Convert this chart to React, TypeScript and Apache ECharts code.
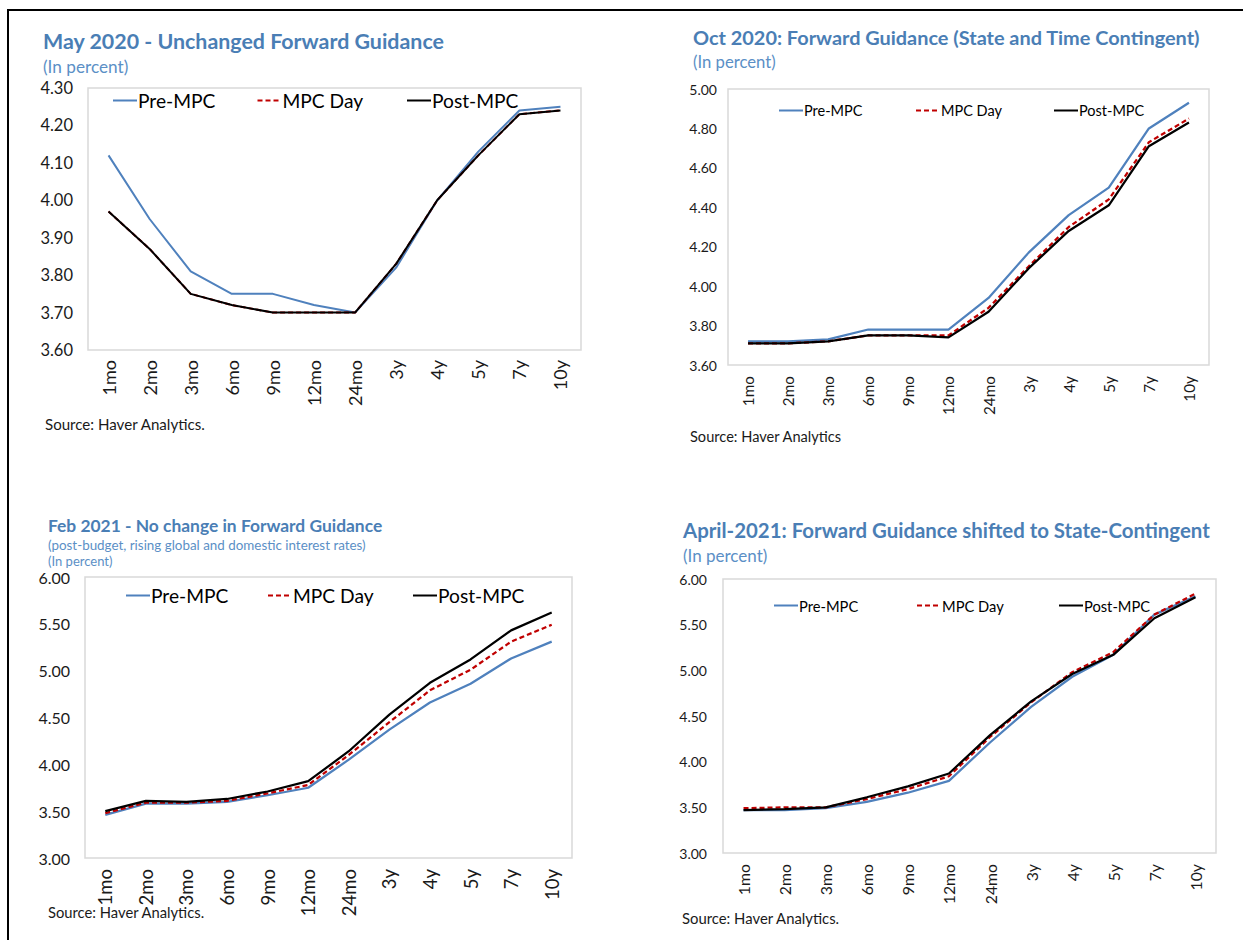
import React, { useEffect, useRef } from "react";
import * as echarts from "echarts";

const categories = ["1mo", "2mo", "3mo", "6mo", "9mo", "12mo", "24mo", "3y", "4y", "5y", "7y", "10y"];
const seriesNames = ["Pre-MPC", "MPC Day", "Post-MPC"];

// May 2020
const may20Pre = [4.12, 3.95, 3.81, 3.75, 3.75, 3.72, 3.7, 3.82, 4.0, 4.13, 4.24, 4.25];
const may20Day = [3.97, 3.87, 3.75, 3.72, 3.7, 3.7, 3.7, 3.83, 4.0, 4.12, 4.23, 4.24];
const may20Post = [3.97, 3.87, 3.75, 3.72, 3.7, 3.7, 3.7, 3.83, 4.0, 4.12, 4.23, 4.24];

// Oct 2020
const oct20Pre = [3.72, 3.72, 3.73, 3.78, 3.78, 3.78, 3.94, 4.17, 4.36, 4.5, 4.8, 4.93];
const oct20Day = [3.71, 3.71, 3.72, 3.75, 3.75, 3.75, 3.89, 4.1, 4.3, 4.44, 4.73, 4.85];
const oct20Post = [3.71, 3.71, 3.72, 3.75, 3.75, 3.74, 3.87, 4.09, 4.28, 4.41, 4.71, 4.83];

// Feb 2021
const feb21Pre = [3.46, 3.58, 3.58, 3.6, 3.67, 3.75, 4.05, 4.37, 4.66, 4.86, 5.13, 5.31];
const feb21Day = [3.48, 3.59, 3.59, 3.61, 3.69, 3.78, 4.1, 4.45, 4.79, 5.01, 5.31, 5.49];
const feb21Post = [3.5, 3.61, 3.6, 3.63, 3.71, 3.82, 4.14, 4.53, 4.87, 5.12, 5.43, 5.62];

// April 2021
const apr21Pre = [3.47, 3.47, 3.49, 3.56, 3.66, 3.79, 4.21, 4.6, 4.93, 5.17, 5.61, 5.81];
const apr21Day = [3.49, 3.5, 3.5, 3.59, 3.7, 3.84, 4.27, 4.65, 4.98, 5.2, 5.61, 5.84];
const apr21Post = [3.47, 3.48, 3.5, 3.61, 3.73, 3.87, 4.29, 4.66, 4.96, 5.17, 5.57, 5.8];

const titles = [
  "May 2020 - Unchanged Forward Guidance",
  "Oct 2020: Forward Guidance (State and Time Contingent)",
  "Feb 2021 - No change in Forward Guidance",
  "April-2021: Forward Guidance shifted to State-Contingent",
];
const subtitles = [
  ["(In percent)"],
  ["(In percent)"],
  ["(post-budget, rising global and domestic interest rates)", "(In percent)"],
  ["(In percent)"],
];
const sources = ["Source: Haver Analytics.", "Source: Haver Analytics", "Source: Haver Analytics.", "Source: Haver Analytics."];

const FONT = "Lato";
const TITLE_BLUE = "#4a7eb5";
const SUB_BLUE = "#5b8fc6";
const PRE_COLOR = "#4f81bd";
const DAY_COLOR = "#c00000";
const POST_COLOR = "#000000";

const panels = [
  {
    data: [may20Pre, may20Day, may20Post],
    grid: { left: 88, top: 88, width: 493, height: 262 },
    y: { min: 3.6, max: 4.3, interval: 0.1 },
    yFont: 16.5, yMargin: 15, xFont: 18, xMargin: 10, lw: 2,
    legend: { xs: [112, 256.5, 406], cy: 98, font: 19.2 },
    title: { x: 43, y: 40.5, size: 21.4 },
    subs: [{ x: 43, y: 66, size: 17.2 }],
    source: { x: 45, y: 423.5, size: 15.1 },
  },
  {
    data: [oct20Pre, oct20Day, oct20Post],
    grid: { left: 728, top: 89, width: 481, height: 276 },
    y: { min: 3.6, max: 5.0, interval: 0.2 },
    yFont: 14, yMargin: 11, xFont: 15.3, xMargin: 11, lw: 2.25,
    legend: { xs: [778, 915, 1053], cy: 110, font: 14.5 },
    title: { x: 693, y: 37, size: 19.9 },
    subs: [{ x: 693, y: 62, size: 16.7 }],
    source: { x: 690, y: 436, size: 14.6 },
  },
  {
    data: [feb21Pre, feb21Day, feb21Post],
    grid: { left: 85, top: 577, width: 487, height: 281 },
    y: { min: 3.0, max: 6.0, interval: 0.5 },
    yFont: 16, yMargin: 15, xFont: 18.5, xMargin: 11, lw: 2.25,
    legend: { xs: [125, 267, 412], cy: 593, font: 19.2 },
    title: { x: 48, y: 525.5, size: 17.4 },
    subs: [
      { x: 48, y: 544.5, size: 13.4 },
      { x: 48, y: 561, size: 13 },
    ],
    source: { x: 48, y: 911.5, size: 14.75 },
  },
  {
    data: [apr21Pre, apr21Day, apr21Post],
    grid: { left: 723, top: 579, width: 493, height: 274 },
    y: { min: 3.0, max: 6.0, interval: 0.5 },
    yFont: 14, yMargin: 16, xFont: 15.8, xMargin: 11, lw: 2.25,
    legend: { xs: [773, 916, 1058], cy: 605, font: 14.7 },
    title: { x: 683, y: 530, size: 20.4 },
    subs: [{ x: 683, y: 555.5, size: 17 }],
    source: { x: 682, y: 917.5, size: 14.85 },
  },
];

function textEl(text: string, x: number, y: number, size: number, fill: string, weight = "normal") {
  return {
    type: "text",
    x,
    y,
    silent: true,
    style: {
      text,
      fill,
      fontSize: size,
      fontFamily: FONT,
      fontWeight: weight,
      align: "left",
      verticalAlign: "middle",
    },
  };
}

export default function App() {
  const ref = useRef<HTMLDivElement>(null);
  useEffect(() => {
    document.body.style.margin = "0";
    if (!ref.current) return;
    const chart = echarts.init(ref.current, undefined, { renderer: "svg" });

    const grids: any[] = [];
    const xAxes: any[] = [];
    const yAxes: any[] = [];
    const series: any[] = [];
    const legends: any[] = [];
    const graphics: any[] = [];

    panels.forEach((p, i) => {
      grids.push({
        ...p.grid,
        show: true,
        borderColor: "#d9d9d9",
        borderWidth: 1.5,
        backgroundColor: "transparent",
        containLabel: false,
      });
      xAxes.push({
        type: "category",
        gridIndex: i,
        data: categories,
        boundaryGap: true,
        axisLine: { show: false },
        axisTick: { show: false },
        splitLine: { show: false },
        axisLabel: {
          rotate: 90,
          interval: 0,
          margin: p.xMargin,
          fontSize: p.xFont,
          fontFamily: FONT,
          color: "#1a1a1a",
        },
      });
      yAxes.push({
        type: "value",
        gridIndex: i,
        min: p.y.min,
        max: p.y.max,
        interval: p.y.interval,
        axisLine: { show: false },
        axisTick: { show: false },
        splitLine: { show: false },
        axisLabel: {
          margin: p.yMargin,
          fontSize: p.yFont,
          fontFamily: FONT,
          color: "#1a1a1a",
          formatter: (v: number) => v.toFixed(2),
        },
      });
      const colors = [PRE_COLOR, DAY_COLOR, POST_COLOR];
      p.data.forEach((vals, k) => {
        series.push({
          id: `s${i}_${k}`,
          name: seriesNames[k],
          type: "line",
          xAxisIndex: i,
          yAxisIndex: i,
          data: vals,
          symbol: "none",
          z: 2 + k,
          lineStyle: {
            color: colors[k],
            width: p.lw,
            type: k === 1 ? [5, 3] : "solid",
            cap: "butt",
          },
          itemStyle: { color: colors[k] },
        });
        legends.push({
          left: p.legend.xs[k],
          top: p.legend.cy - 7,
          orient: "horizontal",
          padding: 0,
          itemWidth: 24,
          itemHeight: 14,
          selectedMode: false,
          data: [seriesNames[k]],
          itemStyle: { color: "transparent", borderColor: "transparent", borderWidth: 0, opacity: 0 },
          textStyle: {
            fontSize: p.legend.font,
            fontFamily: FONT,
            color: "#000",
            padding: [0, 0, 0, -4],
          },
        });
      });
      graphics.push(textEl(titles[i], p.title.x, p.title.y, p.title.size, TITLE_BLUE, "bold"));
      p.subs.forEach((s, j) => {
        graphics.push(textEl(subtitles[i][j], s.x, s.y, s.size, SUB_BLUE));
      });
      graphics.push(textEl(sources[i], p.source.x, p.source.y, p.source.size, "#1a1a1a"));
    });

    graphics.push({
      type: "line",
      silent: true,
      shape: { x1: 8, y1: 10, x2: 1243, y2: 10 },
      style: { stroke: "#000", lineWidth: 2 },
    });
    graphics.push({
      type: "line",
      silent: true,
      shape: { x1: 8, y1: 9, x2: 8, y2: 940 },
      style: { stroke: "#000", lineWidth: 2 },
    });

    chart.setOption({
      animation: false,
      backgroundColor: "#ffffff",
      textStyle: { fontFamily: FONT },
      grid: grids,
      xAxis: xAxes,
      yAxis: yAxes,
      legend: legends,
      series,
      graphic: graphics,
    });
    return () => chart.dispose();
  }, []);
  return <div ref={ref} style={{ width: 1243, height: 940 }} />;
}
